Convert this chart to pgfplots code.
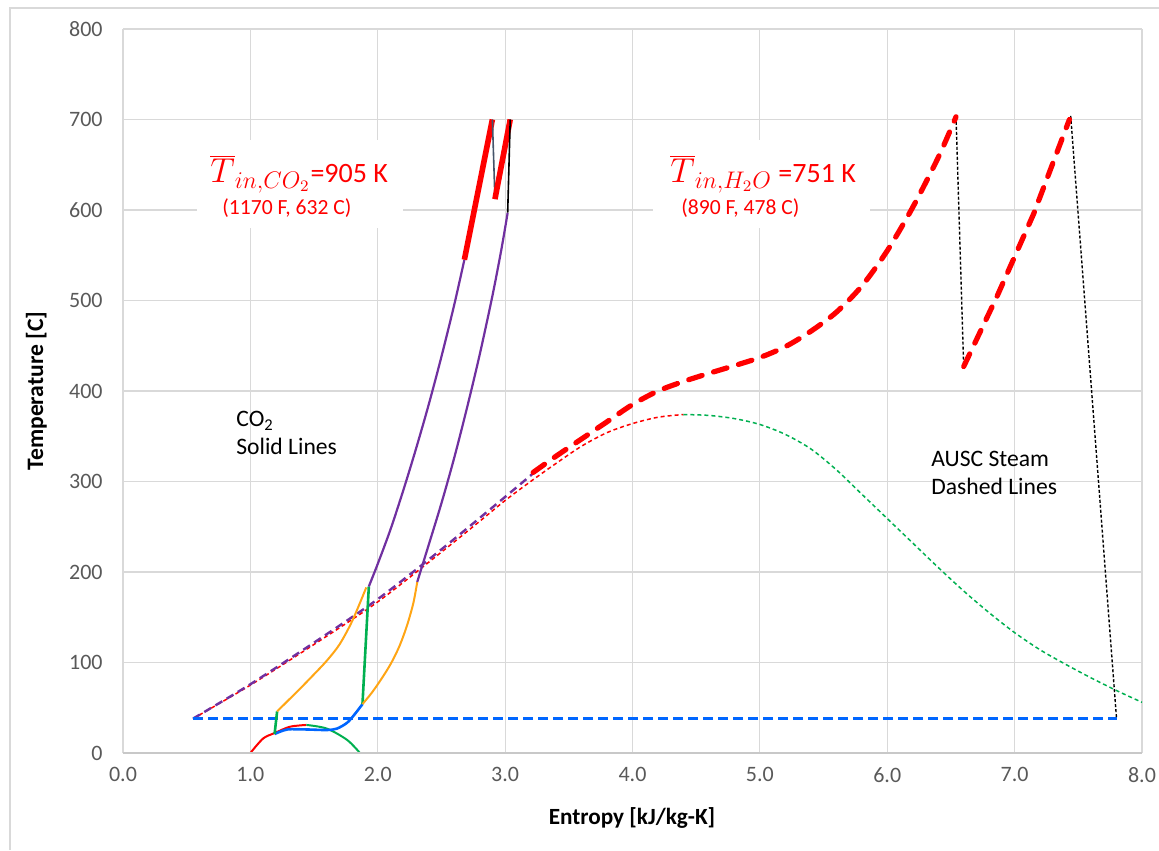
\documentclass[border=0pt]{standalone}
\usepackage{fontspec}
\setmainfont{Carlito}
\usepackage{pgfplots}
\pgfplotsset{compat=1.18}
\definecolor{gridgray}{RGB}{217,217,217}
\definecolor{axisgray}{RGB}{200,200,200}
\definecolor{ticklab}{RGB}{89,89,89}
\definecolor{xred}{RGB}{255,0,0}
\definecolor{xgreen}{RGB}{0,176,80}
\definecolor{xblue}{RGB}{0,102,255}
\definecolor{xorange}{RGB}{255,165,20}
\definecolor{xpurple}{RGB}{112,48,160}
\definecolor{xsteel}{RGB}{68,84,106}
\begin{document}
\begin{tikzpicture}
\useasboundingbox (0,0) rectangle (579.5pt,425pt);
\begin{axis}[
  at={(61.5pt,48.5pt)}, anchor=south west,
  scale only axis, width=509.5pt, height=362pt,
  xmin=0, xmax=8, ymin=0, ymax=800,
  xtick={0,1,2,3,4,5,6,7,8},
  ytick={0,100,200,300,400,500,600,700,800},
  xticklabels={0.0,1.0,2.0,3.0,4.0,5.0,6.0,7.0,8.0},
  yticklabels={0,100,200,300,400,500,600,700,800},
  grid=major, major grid style={draw=gridgray, line width=0.6pt},
  axis line style={draw=none},
  major tick length=0pt,
  /pgf/number format/assume math mode=true,
  tick label style={font=\fontsize{11}{13}\selectfont, text=ticklab},
  xticklabel style={anchor=north, inner sep=0pt, yshift=-7pt},
  yticklabel style={anchor=east, inner sep=0pt, xshift=-10pt},
]
% water saturation dome, liquid side
\addplot[draw=xred, line width=0.75pt, dash pattern=on 2pt off 1.5pt, smooth] coordinates {
(0.55,38)(1.0,75)(1.5,120)(2.0,167)(2.5,222)(2.8,256)(3.0,279)(3.2,300)(3.4,320)(3.6,339)(3.8,354)(4.0,364)(4.2,371)(4.4,374)};
% water saturation dome, vapour side
\addplot[draw=xgreen, line width=0.75pt, dash pattern=on 2pt off 1.5pt, smooth] coordinates {
(4.4,374)(4.6,373)(4.8,369.5)(5.0,363)(5.2,352)(5.4,336)(5.6,313)(5.8,286)(6.0,259)(6.2,232)(6.4,205)(6.6,179)(6.8,155)(7.0,133)(7.2,114)(7.4,98)(7.6,83)(7.8,69)(8.0,56)};
% feedwater heating
\addplot[draw=xpurple, line width=1.2pt, dash pattern=on 4pt off 2.5pt, smooth] coordinates {
(0.55,38)(1.0,76)(1.5,122)(2.0,170)(2.5,225)(3.0,283)(3.22,309)};
% condenser
\addplot[draw=xblue, line width=1.2pt, dash pattern=on 5pt off 2.5pt] coordinates {(0.55,38)(7.80,38)};
% turbine expansions (black dotted)
\addplot[draw=black, line width=0.7pt, dash pattern=on 1.5pt off 1pt] coordinates {(6.54,703)(6.60,427)};
\addplot[draw=black, line width=0.7pt, dash pattern=on 1.5pt off 1pt] coordinates {(7.44,704)(7.80,38)};
% steam heat addition (thick red dashed)
\addplot[draw=xred, line width=2.6pt, line cap=round, dash pattern=on 7pt off 6pt, smooth] coordinates {
(3.22,310)(3.4,328)(3.6,347)(3.8,366)(4.0,385)(4.2,400)(4.4,410.5)(4.6,419.5)(4.8,428)(5.0,437)(5.2,449)(5.4,466)(5.6,487)(5.8,516)(6.0,555)(6.2,603)(6.4,658)(6.54,703)};
\addplot[draw=xred, line width=2.6pt, line cap=round, dash pattern=on 7pt off 6pt] coordinates {
(6.60,427)(6.86,504)(7.15,596)(7.43,700)};
% CO2 saturation dome
\addplot[draw=xred, line width=1pt, smooth] coordinates {(1.0,0)(1.10,16)(1.19,22)(1.31,29)(1.44,31)};
\addplot[draw=xgreen, line width=1pt, smooth] coordinates {(1.44,31)(1.60,27)(1.76,14.4)(1.86,0)};
% CO2 cycle
\addplot[draw=xblue, line width=1.3pt, smooth] coordinates {
(1.19,21)(1.29,26)(1.44,26)(1.60,25.4)(1.68,27)(1.76,33.5)(1.82,43)(1.88,54)};
\addplot[draw=xgreen, line width=1.3pt] coordinates {(1.19,21)(1.21,46)};
\addplot[draw=xgreen, line width=1.3pt] coordinates {(1.88,54)(1.93,184)};
\addplot[draw=xorange, line width=1pt, smooth] coordinates {
(1.21,46)(1.3,58.5)(1.4,72.5)(1.5,87)(1.6,102)(1.7,120)(1.8,146)(1.91,183)};
\addplot[draw=xorange, line width=1pt, smooth] coordinates {
(1.88,54)(1.95,66)(2.02,80)(2.1,98)(2.17,118)(2.23,141)(2.28,166)(2.31,189)};
\addplot[draw=xpurple, line width=1.1pt, smooth] coordinates {
(1.93,184)(2.0,209)(2.1,247)(2.2,290)(2.3,336)(2.4,385)(2.5,438)(2.6,495)(2.68,545)};
\addplot[draw=xpurple, line width=1.1pt, smooth] coordinates {
(2.31,189)(2.4,230)(2.5,276)(2.6,326)(2.7,381)(2.8,440)(2.9,505)(2.97,556)(3.02,597)};
\addplot[draw=xred, line width=2.8pt] coordinates {(2.68,545)(2.90,700)};
\addplot[draw=xsteel, line width=0.8pt] coordinates {(2.90,700)(2.92,612)};
\addplot[draw=xred, line width=2.8pt] coordinates {(2.92,612)(3.04,700)};
\addplot[draw=black, line width=0.8pt] coordinates {(3.04,700)(3.02,597)};
\draw[draw=axisgray, line width=0.8pt] (axis cs:0,0) -- (axis cs:8,0);
\end{axis}
\begin{scope}[shift={(0pt,425pt)}, x=0.5pt, y=-0.5pt]
\draw[gridgray, line width=0.7pt] (10,850) -- (10,8) -- (1159,8);
\fill[white] (197,140) rectangle (403,228);
\fill[white] (653,140) rectangle (870,228);
\node[anchor=base west, inner sep=0pt, text=xred, font=\fontsize{14}{16}\selectfont] at (210,183)
  {{\fontsize{17}{19}\selectfont$\overline{T}_{in,CO_2}$}=905 K};
\node[anchor=base west, inner sep=0pt, text=xred, font=\fontsize{10.8}{13}\selectfont] at (222,215) {(1170 F, 632 C)};
\node[anchor=base west, inner sep=0pt, text=xred, font=\fontsize{14}{16}\selectfont] at (670,183)
  {{\fontsize{17}{19}\selectfont$\overline{T}_{in,H_2O}$} =751 K};
\node[anchor=base west, inner sep=0pt, text=xred, font=\fontsize{10.8}{13}\selectfont] at (681,215) {(890 F, 478 C)};
\node[anchor=base west, inner sep=0pt, font=\fontsize{11.8}{14}\selectfont] at (236,427) {CO\textsubscript{2}};
\node[anchor=base west, inner sep=0pt, font=\fontsize{11.8}{14}\selectfont] at (236,455) {Solid Lines};
\node[anchor=base west, inner sep=0pt, font=\fontsize{11.8}{14}\selectfont] at (931,467) {AUSC Steam};
\node[anchor=base west, inner sep=0pt, font=\fontsize{11.8}{14}\selectfont] at (931,495) {Dashed Lines};
\node[anchor=base, inner sep=0pt, font=\bfseries\fontsize{11.6}{14}\selectfont] at (632,824) {Entropy [kJ/kg-K]};
\node[anchor=base, rotate=90, inner sep=0pt, font=\bfseries\fontsize{11.8}{14}\selectfont] at (43,391) {Temperature [C]};
\end{scope}
\end{tikzpicture}
\end{document}
